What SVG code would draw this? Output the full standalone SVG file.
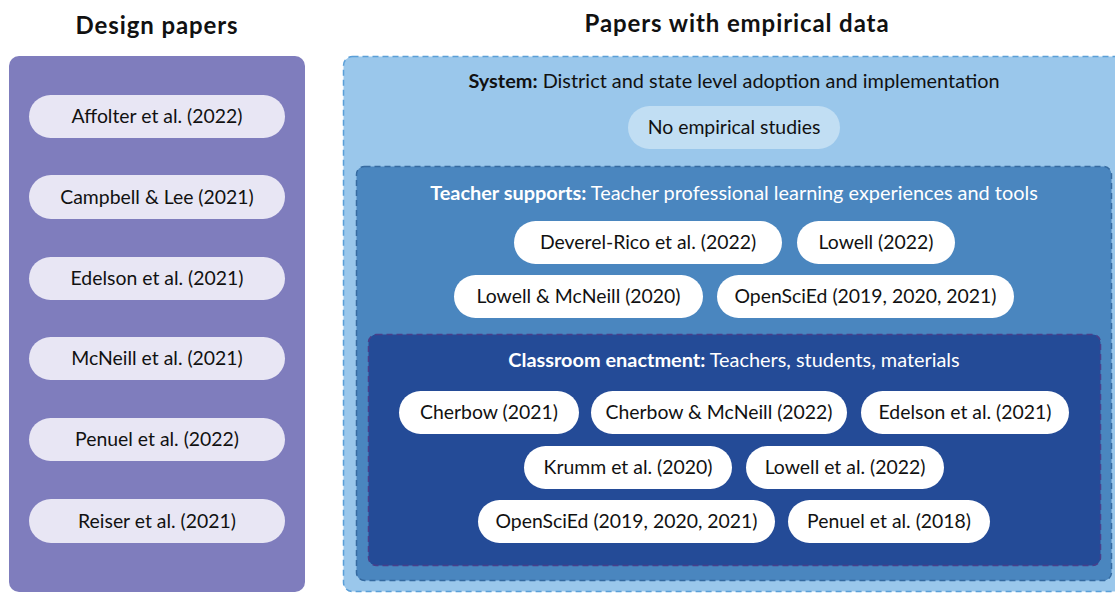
<svg xmlns="http://www.w3.org/2000/svg" width="1115" height="593" viewBox="0 0 1115 593">
<style>
text{font-family:Lato,"Noto Sans",sans-serif;}
.h{font-size:24px;font-weight:700;fill:#111;text-anchor:middle;letter-spacing:0.9px;}
.t{font-size:19.4px;fill:#111;text-anchor:middle;}
.ttl{font-size:19.9px;text-anchor:middle;}
.b{font-weight:700;}
.lp{fill:#e8e6f4;}
.wp{fill:#ffffff;}
</style>
<rect width="1115" height="593" fill="#ffffff"/>
<text class="h" x="157" y="34">Design papers</text>
<text class="h" x="737" y="32">Papers with empirical data</text>
<g id="design-panel">
<rect x="9" y="56" width="296" height="536" rx="10" fill="#7f7dbd"/>
</g>
<g id="design-1"><rect class="lp" x="29" y="95" width="256" height="43" rx="21.5"/><text class="t" x="157" y="123">Affolter et al. (2022)</text></g>
<g id="design-2"><rect class="lp" x="29" y="175" width="256" height="44" rx="22"/><text class="t" x="157" y="204">Campbell &amp; Lee (2021)</text></g>
<g id="design-3"><rect class="lp" x="29" y="257" width="256" height="43" rx="21.5"/><text class="t" x="157" y="285">Edelson et al. (2021)</text></g>
<g id="design-4"><rect class="lp" x="29" y="337" width="256" height="43" rx="21.5"/><text class="t" x="157" y="365">McNeill et al. (2021)</text></g>
<g id="design-5"><rect class="lp" x="29" y="418" width="256" height="43" rx="21.5"/><text class="t" x="157" y="446">Penuel et al. (2022)</text></g>
<g id="design-6"><rect class="lp" x="29" y="499" width="256" height="44" rx="22"/><text class="t" x="157" y="528">Reiser et al. (2021)</text></g>
<g id="system">
<rect x="343.5" y="56.5" width="790" height="535" rx="9" fill="#9ac7eb" stroke="#5a9fd8" stroke-width="1.5" stroke-dasharray="6 4"/>
<text class="ttl" x="734" y="88" fill="#111"><tspan class="b">System:</tspan> District and state level adoption and implementation</text>
</g>
<g id="no-empirical"><rect x="628" y="106" width="212" height="43" rx="21.5" fill="#c1def3"/><text class="t" x="734" y="134">No empirical studies</text></g>
<g id="teacher">
<rect x="356.5" y="166.5" width="755" height="414" rx="8" fill="#4a86bf" stroke="#356aa0" stroke-width="1.5" stroke-dasharray="6 4"/>
<text class="ttl" x="734" y="200" fill="#ffffff"><tspan class="b">Teacher supports:</tspan> Teacher professional learning experiences and tools</text>
</g>
<g id="t-1"><rect class="wp" x="514" y="221" width="268" height="43" rx="21.5"/><text class="t" x="648" y="249">Deverel-Rico et al. (2022)</text></g>
<g id="t-2"><rect class="wp" x="797" y="221" width="158" height="43" rx="21.5"/><text class="t" x="876" y="249">Lowell (2022)</text></g>
<g id="t-3"><rect class="wp" x="454" y="275" width="249" height="43" rx="21.5"/><text class="t" x="578.5" y="303">Lowell &amp; McNeill (2020)</text></g>
<g id="t-4"><rect class="wp" x="717" y="275" width="297" height="43" rx="21.5"/><text class="t" x="865.5" y="303">OpenSciEd (2019, 2020, 2021)</text></g>
<g id="classroom">
<rect x="368.5" y="334.5" width="732" height="231" rx="8" fill="#244b97" stroke="#4a3f8a" stroke-width="1.5" stroke-dasharray="6 4"/>
<text class="ttl" x="734" y="367" fill="#ffffff"><tspan class="b">Classroom enactment:</tspan> Teachers, students, materials</text>
</g>
<g id="c-1"><rect class="wp" x="399" y="391" width="180" height="43" rx="21.5"/><text class="t" x="489" y="419">Cherbow (2021)</text></g>
<g id="c-2"><rect class="wp" x="591" y="391" width="256" height="43" rx="21.5"/><text class="t" x="719" y="419">Cherbow &amp; McNeill (2022)</text></g>
<g id="c-3"><rect class="wp" x="861" y="391" width="208" height="43" rx="21.5"/><text class="t" x="965" y="419">Edelson et al. (2021)</text></g>
<g id="c-4"><rect class="wp" x="524" y="446" width="208" height="43" rx="21.5"/><text class="t" x="628" y="474">Krumm et al. (2020)</text></g>
<g id="c-5"><rect class="wp" x="746" y="446" width="198" height="43" rx="21.5"/><text class="t" x="845" y="474">Lowell et al. (2022)</text></g>
<g id="c-6"><rect class="wp" x="478" y="500" width="297" height="43" rx="21.5"/><text class="t" x="626.5" y="528">OpenSciEd (2019, 2020, 2021)</text></g>
<g id="c-7"><rect class="wp" x="788" y="500" width="202" height="43" rx="21.5"/><text class="t" x="889" y="528">Penuel et al. (2018)</text></g>
<g id="connectors"></g>
</svg>
